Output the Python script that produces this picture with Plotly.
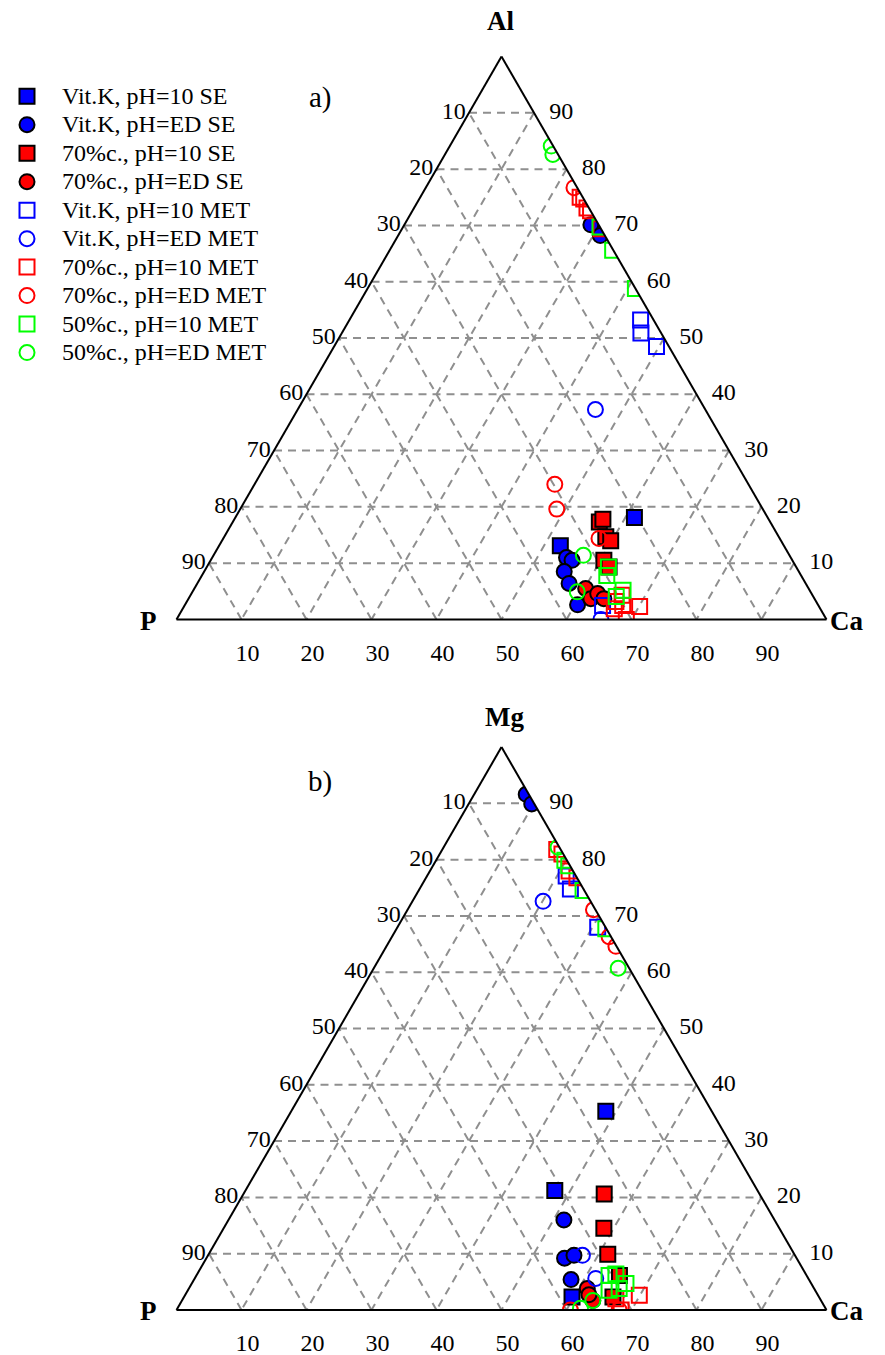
import plotly.graph_objects as go

# ---------------- data: tuples are (top component %, Ca %, P %) ----------------
# panel a) : top = Al
a_vitk_10_se = [(18.1, 61.4, 20.5), (13.1, 52.5, 34.4)]
a_vitk_ed_se = [(70.1, 28.7, 1.2), (68.2, 31.1, 0.7), (11.0, 54.5, 34.5), (10.5, 55.6, 33.9),
                (8.5, 55.4, 36.1), (6.4, 57.2, 36.4), (2.6, 60.4, 37.0)]
a_70_10_se = [(17.3, 56.4, 26.3), (17.8, 56.7, 25.5), (14.7, 58.7, 26.6), (14.0, 59.8, 26.2),
              (10.5, 60.5, 29.0), (9.3, 61.9, 28.8)]
a_70_ed_se = [(5.5, 60.2, 34.3), (3.7, 61.9, 34.4), (4.6, 62.5, 32.9), (3.7, 63.9, 32.4)]
a_vitk_10_met = [(53.2, 44.8, 2.0), (50.9, 46.0, 3.1), (48.5, 49.6, 1.9), (2.5, 64.3, 33.2)]
a_vitk_ed_met = [(37.3, 45.8, 16.9), (0.0, 65.3, 34.7)]
a_70_10_met = [(75.0, 24.6, 0.4), (74.7, 25.3, 0.0), (73.1, 26.6, 0.3), (72.6, 27.4, 0.0),
               (69.4, 30.6, 0.0), (4.3, 66.4, 29.3), (2.5, 67.4, 30.1), (2.3, 70.1, 27.6),
               (0.0, 69.2, 30.8), (1.9, 66.4, 31.7), (3.2, 66.0, 30.8)]
a_70_ed_met = [(76.7, 22.8, 0.5), (24.0, 46.2, 29.8), (19.6, 48.7, 31.7), (14.4, 57.8, 27.8)]
a_50_10_met = [(69.7, 30.3, 0.0), (65.6, 34.3, 0.1), (58.8, 41.2, 0.0), (9.3, 61.8, 28.9),
               (7.8, 62.3, 29.9), (5.2, 66.1, 28.7), (4.1, 65.6, 30.3)]
a_50_ed_met = [(84.1, 15.6, 0.3), (82.6, 16.6, 0.8), (11.4, 56.9, 31.7), (4.9, 59.2, 35.9)]

# panel b) : top = Mg
b_vitk_10_se = [(35.3, 48.4, 16.3), (21.2, 47.6, 31.2), (2.3, 59.7, 38.0)]
b_vitk_ed_se = [(91.6, 8.0, 0.4), (89.9, 9.7, 0.4), (16.0, 51.6, 32.4), (9.2, 55.1, 35.7),
                (9.7, 56.3, 34.0), (5.4, 58.0, 36.6)]
b_70_10_se = [(20.6, 55.5, 23.9), (14.5, 58.5, 27.0), (9.9, 61.4, 28.7), (6.1, 65.1, 28.8),
              (2.3, 66.0, 31.7)]
b_70_ed_se = [(3.8, 61.3, 34.9), (1.7, 63.2, 35.1), (2.7, 62.1, 35.2)]
b_vitk_10_met = [(77.1, 21.4, 1.5), (74.8, 23.2, 2.0), (68.0, 30.8, 1.2)]
b_vitk_ed_met = [(72.6, 20.1, 7.3), (9.7, 57.6, 32.7), (5.6, 61.7, 32.7)]
b_70_10_met = [(81.8, 17.6, 0.6), (81.0, 18.8, 0.2), (78.0, 21.4, 0.6), (76.8, 23.2, 0.0),
               (2.6, 69.9, 27.5), (0.0, 68.4, 31.6), (2.0, 66.6, 31.4)]
b_70_ed_met = [(71.1, 28.6, 0.3), (66.3, 33.4, 0.3), (64.6, 35.3, 0.1), (0.0, 60.6, 39.4),
               (0.0, 68.1, 31.9)]
b_50_10_met = [(79.9, 19.8, 0.3), (78.9, 20.9, 0.2), (74.5, 25.3, 0.2), (67.7, 32.2, 0.1),
               (6.1, 63.5, 30.4), (6.4, 64.4, 29.2), (3.8, 66.2, 30.0), (3.5, 64.8, 31.7),
               (4.7, 66.8, 28.5)]
b_50_ed_met = [(82.2, 17.6, 0.2), (60.7, 37.6, 1.7), (1.7, 63.2, 35.1), (0.3, 62.0, 37.7)]

series_names = ["Vit.K, pH=10 SE", "Vit.K, pH=ED SE", "70%c., pH=10 SE", "70%c., pH=ED SE",
                "Vit.K, pH=10 MET", "Vit.K, pH=ED MET", "70%c., pH=10 MET", "70%c., pH=ED MET",
                "50%c., pH=10 MET", "50%c., pH=ED MET"]
panel_a = [a_vitk_10_se, a_vitk_ed_se, a_70_10_se, a_70_ed_se, a_vitk_10_met, a_vitk_ed_met,
           a_70_10_met, a_70_ed_met, a_50_10_met, a_50_ed_met]
panel_b = [b_vitk_10_se, b_vitk_ed_se, b_70_10_se, b_70_ed_se, b_vitk_10_met, b_vitk_ed_met,
           b_70_10_met, b_70_ed_met, b_50_10_met, b_50_ed_met]

tick_vals = [10, 20, 30, 40, 50, 60, 70, 80, 90]
tick_text = ["90", "80", "70", "60", "50", "40", "30", "20", "10"]

# ---------------- styles ----------------
BLUE, RED, GREEN = "#0000ff", "#ff0000", "#00ff00"
styles = [
    dict(symbol="square", color=BLUE, line=dict(color="black", width=2)),
    dict(symbol="circle", color=BLUE, line=dict(color="black", width=2)),
    dict(symbol="square", color=RED, line=dict(color="black", width=2)),
    dict(symbol="circle", color=RED, line=dict(color="black", width=2)),
    dict(symbol="square-open", color=BLUE, line=dict(color=BLUE, width=2)),
    dict(symbol="circle-open", color=BLUE, line=dict(color=BLUE, width=2)),
    dict(symbol="square-open", color=RED, line=dict(color=RED, width=2)),
    dict(symbol="circle-open", color=RED, line=dict(color=RED, width=2)),
    dict(symbol="square-open", color=GREEN, line=dict(color=GREEN, width=2)),
    dict(symbol="circle-open", color=GREEN, line=dict(color=GREEN, width=2)),
]

FONT = "Liberation Serif, Times New Roman, serif"
TICK_SIZE = 24

fig = go.Figure()
for subplot, panel in (("ternary", panel_a), ("ternary2", panel_b)):
    for name, pts, st in zip(series_names, panel, styles):
        fig.add_trace(go.Scatterternary(
            a=[p[0] for p in pts], c=[p[1] for p in pts], b=[p[2] for p in pts],
            mode="markers", subplot=subplot,
            name='<span style="font-size:24px">' + name + "</span>",
            showlegend=(subplot == "ternary"),
            marker=dict(symbol=st["symbol"], color=st["color"], size=15, line=st["line"]),
            hoverinfo="skip",
        ))


def axis(texts, ticklen=0):
    return dict(
        tickmode="array", tickvals=tick_vals, ticktext=texts,
        ticks="outside" if ticklen else "", ticklen=ticklen, tickcolor="rgba(0,0,0,0)",
        showline=True, linecolor="black", linewidth=2,
        showgrid=True, gridcolor="#8f8f8f", gridwidth=2, griddash="8px,6px",
        tickfont=dict(family=FONT, size=TICK_SIZE, color="black"),
        title=dict(text=""),
    )


W, H = 885, 1355


def fx(px):
    return px / W


def fy(py):
    return 1 - py / H


SIDE = 650.0
THT = SIDE * 3 ** 0.5 / 2
CX = 501.5
CY_A, CY_B = 338.0, 1028.5

tern_common = dict(sum=100, bgcolor="white")
fig.update_layout(
    width=W, height=H, margin=dict(l=0, r=0, t=0, b=0, autoexpand=False),
    paper_bgcolor="white", plot_bgcolor="white",
    font=dict(family=FONT, color="black"),
    ternary=dict(domain=dict(x=[fx(CX - SIDE / 2), fx(CX + SIDE / 2)],
                             y=[fy(CY_A + THT / 2), fy(CY_A - THT / 2)]),
                 aaxis=axis(tick_text), baxis=axis(tick_text, 12),
                 caxis=axis(["\u00a0\u00a0" + t for t in tick_text]), **tern_common),
    ternary2=dict(domain=dict(x=[fx(CX - SIDE / 2), fx(CX + SIDE / 2)],
                              y=[fy(CY_B + THT / 2), fy(CY_B - THT / 2)]),
                  aaxis=axis(tick_text), baxis=axis(tick_text, 12),
                  caxis=axis(["\u00a0\u00a0" + t for t in tick_text]), **tern_common),
    legend=dict(x=fx(-8), y=fy(77), xanchor="left", yanchor="top",
                font=dict(family=FONT, size=19.6, color="black"),
                itemwidth=60,
                bgcolor="rgba(0,0,0,0)", itemsizing="trace"),
    showlegend=True,
)

ann = [
    ("<b>Al</b>", 501, 21, 27), ("<b>P</b>", 148, 621, 27), ("<b>Ca</b>", 846, 621, 27),
    ("<b>Mg</b>", 505, 717, 27), ("<b>P</b>", 148, 1311, 27), ("<b>Ca</b>", 846, 1311, 27),
    ("a)", 320, 97, 29), ("b)", 320, 781, 29),
]
for text, px, py, fs in ann:
    fig.add_annotation(text=text, x=fx(px), y=fy(py), xref="paper", yref="paper",
                       showarrow=False, xanchor="center", yanchor="middle",
                       font=dict(family=FONT, size=fs, color="black"))

# remove the browser's default 8px body margin so the figure fills the window exactly
fig.write_html("out.html", config={"displayModeBar": False},
               post_script="document.body.style.margin='0px';")
